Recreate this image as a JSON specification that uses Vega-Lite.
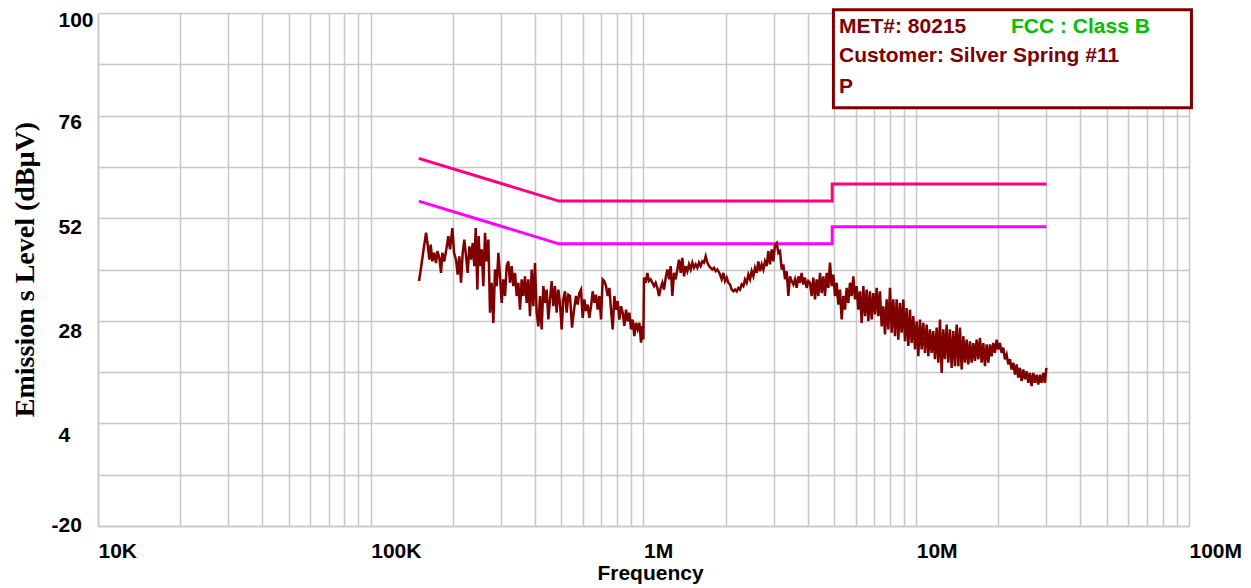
{
  "$schema": "https://vega.github.io/schema/vega-lite/v6.json",
  "width": 1091,
  "height": 513,
  "autosize": "none",
  "padding": {"left": 98, "top": 13, "right": 62, "bottom": 62},
  "background": "white",
  "config": {"view": {"stroke": null}},
  "resolve": {"scale": {"color": "independent"}},
  "datasets": {
    "trace": [
      {"f":150300,"dB":37.3},{"f":152900,"dB":40.4},{"f":155900,"dB":44.3},{"f":159500,"dB":48.6},{"f":161700,"dB":45.8},
      {"f":164000,"dB":42.3},{"f":165900,"dB":45.8},{"f":168200,"dB":41.9},{"f":170600,"dB":43.9},{"f":173500,"dB":41.5},
      {"f":175500,"dB":44.3},{"f":178500,"dB":42.7},{"f":181000,"dB":39.2},{"f":183000,"dB":43.9},{"f":186100,"dB":41.9},
      {"f":188800,"dB":44.3},{"f":192500,"dB":47.8},{"f":195300,"dB":44.7},{"f":199200,"dB":49.7},{"f":202000,"dB":43.9},
      {"f":205400,"dB":42.3},{"f":208300,"dB":38.8},{"f":211300,"dB":43.1},{"f":214300,"dB":36.9},{"f":217300,"dB":43.9},
      {"f":220400,"dB":47.0},{"f":223500,"dB":43.1},{"f":226700,"dB":39.2},{"f":229900,"dB":45.4},{"f":233200,"dB":42.3},
      {"f":236500,"dB":46.2},{"f":239800,"dB":40.8},{"f":242500,"dB":49.7},{"f":246000,"dB":35.3},{"f":248700,"dB":47.8},
      {"f":251600,"dB":40.8},{"f":255100,"dB":44.7},{"f":258700,"dB":36.1},{"f":262400,"dB":48.6},{"f":266100,"dB":41.9},
      {"f":269900,"dB":47.0},{"f":273700,"dB":29.9},{"f":277600,"dB":36.9},{"f":281500,"dB":27.5},{"f":285500,"dB":40.0},
      {"f":289600,"dB":36.1},{"f":293700,"dB":43.9},{"f":297800,"dB":38.4},{"f":302000,"dB":32.2},{"f":306300,"dB":37.7},
      {"f":310700,"dB":33.8},{"f":315100,"dB":40.8},{"f":319500,"dB":41.9},{"f":324000,"dB":36.9},{"f":328600,"dB":40.8},
      {"f":333300,"dB":36.1},{"f":338000,"dB":39.2},{"f":342800,"dB":33.8},{"f":347600,"dB":36.9},{"f":352600,"dB":30.6},
      {"f":357600,"dB":37.7},{"f":362600,"dB":33.8},{"f":367800,"dB":38.4},{"f":373000,"dB":32.2},{"f":378300,"dB":37.7},
      {"f":383600,"dB":29.1},{"f":389000,"dB":40.0},{"f":394600,"dB":31.4},{"f":400100,"dB":41.5},{"f":405800,"dB":29.9},
      {"f":411600,"dB":26.7},{"f":417400,"dB":33.8},{"f":423300,"dB":26.0},{"f":429300,"dB":36.1},{"f":435400,"dB":32.2},
      {"f":441500,"dB":35.3},{"f":447800,"dB":28.3},{"f":454100,"dB":33.0},{"f":460600,"dB":37.3},{"f":467100,"dB":31.4},
      {"f":473700,"dB":36.1},{"f":480400,"dB":29.9},{"f":487200,"dB":35.3},{"f":494100,"dB":32.2},{"f":501100,"dB":26.0},
      {"f":508200,"dB":33.0},{"f":515400,"dB":34.9},{"f":522700,"dB":29.9},{"f":530100,"dB":34.1},
      {"f":537800,"dB":33.8},{"f":546900,"dB":26.4},{"f":556200,"dB":30.6},{"f":565700,"dB":33.8},{"f":573700,"dB":31.8},
      {"f":581900,"dB":34.5},{"f":590100,"dB":35.3},{"f":598500,"dB":28.7},{"f":607000,"dB":33.0},{"f":615600,"dB":30.3},
      {"f":624300,"dB":31.8},{"f":633100,"dB":28.7},{"f":642100,"dB":31.4},{"f":651200,"dB":34.9},{"f":660400,"dB":32.2},
      {"f":669700,"dB":34.1},{"f":679300,"dB":30.6},{"f":688900,"dB":33.8},{"f":698700,"dB":28.3},{"f":708500,"dB":37.7},
      {"f":718600,"dB":37.3},{"f":728800,"dB":36.1},{"f":739100,"dB":33.8},{"f":749600,"dB":35.7},{"f":760200,"dB":30.6},
      {"f":771000,"dB":26.0},{"f":781900,"dB":33.8},{"f":793000,"dB":30.6},{"f":804300,"dB":32.6},{"f":815600,"dB":28.3},
      {"f":827200,"dB":31.4},{"f":838900,"dB":29.9},{"f":850800,"dB":26.8},{"f":862900,"dB":30.6},{"f":875100,"dB":27.9},
      {"f":887500,"dB":29.9},{"f":900100,"dB":26.0},{"f":912800,"dB":28.3},{"f":925800,"dB":24.4},{"f":938900,"dB":27.5},
      {"f":952200,"dB":26.0},{"f":965700,"dB":27.5},{"f":979400,"dB":22.9},{"f":990300,"dB":26.8},{"f":998800,"dB":23.6},
      {"f":1004400,"dB":38.1},{"f":1018600,"dB":36.9},{"f":1033100,"dB":39.2},{"f":1047700,"dB":37.3},{"f":1062500,"dB":37.7},
      {"f":1077600,"dB":36.9},{"f":1092900,"dB":36.1},{"f":1108300,"dB":36.9},{"f":1124100,"dB":35.7},{"f":1140000,"dB":33.8},
      {"f":1156100,"dB":35.7},{"f":1172500,"dB":36.9},{"f":1189100,"dB":35.3},{"f":1206000,"dB":38.1},{"f":1223000,"dB":40.0},
      {"f":1240400,"dB":37.7},{"f":1257900,"dB":40.8},{"f":1275800,"dB":33.8},{"f":1293900,"dB":39.2},{"f":1312200,"dB":37.7},
      {"f":1330800,"dB":40.0},{"f":1349600,"dB":42.3},{"f":1368700,"dB":39.2},{"f":1388200,"dB":42.7},{"f":1407800,"dB":38.4},
      {"f":1427700,"dB":40.8},{"f":1448000,"dB":39.6},{"f":1468500,"dB":41.2},{"f":1489300,"dB":40.0},{"f":1510400,"dB":41.6},
      {"f":1531800,"dB":40.4},{"f":1553500,"dB":41.2},{"f":1575500,"dB":40.4},{"f":1597800,"dB":41.6},{"f":1620500,"dB":40.8},
      {"f":1643500,"dB":41.9},{"f":1666700,"dB":41.6},{"f":1690400,"dB":43.1},{"f":1714300,"dB":41.6},{"f":1738600,"dB":40.8},
      {"f":1763200,"dB":40.4},{"f":1788200,"dB":40.0},{"f":1813500,"dB":40.4},{"f":1839200,"dB":39.6},{"f":1865300,"dB":40.0},
      {"f":1897200,"dB":39.2},
      {"f":1907700,"dB":38.8},{"f":1934700,"dB":37.7},{"f":1962100,"dB":39.2},{"f":1990000,"dB":37.3},{"f":2018200,"dB":38.1},
      {"f":2046700,"dB":36.9},{"f":2075700,"dB":36.5},{"f":2105200,"dB":35.3},{"f":2135000,"dB":34.9},{"f":2165100,"dB":35.3},
      {"f":2195900,"dB":34.9},{"f":2227000,"dB":35.7},{"f":2258600,"dB":35.3},{"f":2290700,"dB":36.5},{"f":2323000,"dB":36.1},
      {"f":2355900,"dB":37.7},{"f":2389300,"dB":36.9},{"f":2423300,"dB":38.8},{"f":2457600,"dB":37.7},{"f":2492400,"dB":39.6},
      {"f":2527700,"dB":38.4},{"f":2563400,"dB":40.4},{"f":2599800,"dB":39.2},{"f":2636600,"dB":41.9},{"f":2674000,"dB":39.6},
      {"f":2711800,"dB":41.2},{"f":2750300,"dB":40.0},{"f":2789300,"dB":41.9},{"f":2828800,"dB":40.8},{"f":2868900,"dB":44.3},
      {"f":2909700,"dB":41.2},{"f":2950900,"dB":44.7},{"f":2992600,"dB":41.9},{"f":3035000,"dB":45.8},{"f":3078000,"dB":46.2},
      {"f":3121700,"dB":43.9},{"f":3165900,"dB":44.3},{"f":3210800,"dB":40.0},{"f":3256200,"dB":41.2},{"f":3302300,"dB":37.7},
      {"f":3349000,"dB":39.6},{"f":3396600,"dB":33.8},{"f":3444600,"dB":38.4},{"f":3493400,"dB":37.3},{"f":3542900,"dB":36.5},
      {"f":3593100,"dB":37.7},{"f":3644100,"dB":35.7},{"f":3695600,"dB":38.4},{"f":3748000,"dB":36.9},{"f":3801000,"dB":39.2},
      {"f":3854800,"dB":36.5},{"f":3909400,"dB":38.1},{"f":3964800,"dB":35.7},{"f":4021100,"dB":37.3},{"f":4077900,"dB":36.9},
      {"f":4135800,"dB":33.8},{"f":4194300,"dB":38.1},{"f":4253700,"dB":33.0},{"f":4314000,"dB":37.7},{"f":4375100,"dB":33.8},
      {"f":4437100,"dB":39.2},{"f":4500000,"dB":34.5},{"f":4563600,"dB":38.4},{"f":4628200,"dB":33.8},{"f":4693800,"dB":39.2},
      {"f":4760300,"dB":35.7},{"f":4827600,"dB":41.6},{"f":4896100,"dB":36.1},{"f":4965400,"dB":38.8},{"f":5035800,"dB":33.8},
      {"f":5107000,"dB":36.9},{"f":5179400,"dB":31.8},{"f":5252700,"dB":35.3},{"f":5327100,"dB":28.3},{"f":5402500,"dB":33.8},
      {"f":5479000,"dB":30.6},{"f":5556700,"dB":35.7},{"f":5635300,"dB":32.2},{"f":5715100,"dB":36.9},{"f":5796100,"dB":33.8},
      {"f":5878100,"dB":38.4},{"f":5961400,"dB":33.0},{"f":6045900,"dB":36.1},{"f":6131400,"dB":30.6},{"f":6218300,"dB":34.9},
      {"f":6307500,"dB":27.5},{"f":6396700,"dB":36.1},{"f":6487600,"dB":29.1},{"f":6579500,"dB":35.3},{"f":6672500,"dB":27.9},
      {"f":6767100,"dB":34.9},{"f":6863200,"dB":28.3},{"f":6960400,"dB":34.5},{"f":7058600,"dB":29.5},{"f":7158900,"dB":35.7},
      {"f":7260300,"dB":29.1},{"f":7363200,"dB":34.9},{"f":7467800,"dB":26.7},{"f":7573300,"dB":31.4},{"f":7680500,"dB":24.8},
      {"f":7789200,"dB":33.0},{"f":7900100,"dB":26.0},{"f":8011900,"dB":35.7},{"f":8125400,"dB":25.2},{"f":8240400,"dB":33.0},
      {"f":8357000,"dB":24.4},{"f":8475800,"dB":33.0},{"f":8595500,"dB":23.6},{"f":8717400,"dB":32.2},{"f":8840800,"dB":25.2},
      {"f":8966400,"dB":33.0},{"f":9093500,"dB":23.2},{"f":9222200,"dB":31.0},{"f":9353000,"dB":22.1},{"f":9485800,"dB":30.6},
      {"f":9620300,"dB":22.8},{"f":9756400,"dB":29.1},{"f":9894600,"dB":21.3},{"f":10035000,"dB":27.9},{"f":10177000,"dB":19.7},
      {"f":10321000,"dB":28.3},{"f":10468000,"dB":21.3},{"f":10616000,"dB":27.5},{"f":10766000,"dB":20.5},{"f":10918000,"dB":27.1},
      {"f":11073000,"dB":19.7},{"f":11230000,"dB":26.0},{"f":11389000,"dB":20.5},{"f":11550000,"dB":25.6},{"f":11714000,"dB":19.0},
      {"f":11880000,"dB":26.4},{"f":12048000,"dB":18.2},{"f":12219000,"dB":28.3},{"f":12392000,"dB":15.8},{"f":12567000,"dB":26.0},
      {"f":12745000,"dB":19.0},{"f":12926000,"dB":27.1},{"f":13109000,"dB":18.2},{"f":13295000,"dB":26.0},{"f":13483000,"dB":17.0},
      {"f":13674000,"dB":25.6},{"f":13868000,"dB":17.4},{"f":14064000,"dB":27.1},{"f":14263000,"dB":17.4},{"f":14465000,"dB":26.4},
      {"f":14670000,"dB":16.6},{"f":14878000,"dB":24.4},{"f":15088000,"dB":18.2},{"f":15302000,"dB":23.6},{"f":15519000,"dB":17.8},
      {"f":15739000,"dB":23.2},{"f":15962000,"dB":18.2},{"f":16188000,"dB":22.8},{"f":16417000,"dB":18.6},{"f":16650000,"dB":23.6},
      {"f":16885000,"dB":19.0},{"f":17124000,"dB":24.0},{"f":17367000,"dB":18.2},{"f":17613000,"dB":22.8},{"f":17862000,"dB":17.4},
      {"f":18116000,"dB":22.5},{"f":18372000,"dB":18.2},{"f":18632000,"dB":22.5},{"f":18896000,"dB":19.7},{"f":19164000,"dB":22.8},
      {"f":19435000,"dB":20.5},{"f":19710000,"dB":23.6},{"f":19989000,"dB":21.3},{"f":20272000,"dB":22.8},{"f":20559000,"dB":20.5},
      {"f":20850000,"dB":21.7},{"f":21146000,"dB":19.0},{"f":21445000,"dB":20.1},{"f":21749000,"dB":17.8},{"f":22057000,"dB":19.0},
      {"f":22369000,"dB":16.6},{"f":22686000,"dB":18.2},{"f":23007000,"dB":15.4},{"f":23333000,"dB":17.8},{"f":23664000,"dB":14.7},
      {"f":23999000,"dB":17.0},{"f":24339000,"dB":13.9},{"f":24684000,"dB":16.6},{"f":25033000,"dB":14.3},{"f":25388000,"dB":16.2},
      {"f":25748000,"dB":13.5},{"f":26112000,"dB":15.8},{"f":26482000,"dB":12.7},{"f":26857000,"dB":15.8},{"f":27237000,"dB":13.5},
      {"f":27623000,"dB":15.4},{"f":28015000,"dB":13.1},{"f":28411000,"dB":15.4},{"f":28814000,"dB":13.5},{"f":29222000,"dB":15.8},
      {"f":29636000,"dB":13.5},{"f":30000000,"dB":17.0}
    ],
    "limits": [
      {"lim":"QP","i":0,"f":150000,"dB":66},{"lim":"QP","i":1,"f":490000,"dB":56},{"lim":"QP","i":2,"f":4920000,"dB":56},
      {"lim":"QP","i":3,"f":4920000,"dB":60},{"lim":"QP","i":4,"f":30000000,"dB":60},
      {"lim":"AV","i":0,"f":150000,"dB":56},{"lim":"AV","i":1,"f":490000,"dB":46},{"lim":"AV","i":2,"f":4920000,"dB":46},
      {"lim":"AV","i":3,"f":4920000,"dB":50},{"lim":"AV","i":4,"f":30000000,"dB":50}
    ],
    "box": [{"f":4970000,"f2":102100000,"dB":100.77,"dB2":77.86}],
    "notes": [
      {"f":5210000,"dB":95.4,"t":"MET#: 80215","kind":"id"},
      {"f":22250000,"dB":95.4,"t":"FCC : Class B","kind":"std"},
      {"f":5210000,"dB":88.45,"t":"Customer: Silver Spring #11","kind":"id"},
      {"f":5210000,"dB":81.3,"t":"P","kind":"id"}
    ]
  },
  "encoding": {
    "x": {
      "field": "f", "type": "quantitative",
      "scale": {"type": "log", "domain": [10000, 100000000]},
      "axis": {
        "values": [10000,20000,30000,40000,50000,60000,70000,80000,90000,100000,200000,300000,400000,500000,600000,700000,800000,900000,1000000,2000000,3000000,4000000,5000000,6000000,7000000,8000000,9000000,10000000,20000000,30000000,40000000,50000000,60000000,70000000,80000000,90000000,100000000],
        "labelExpr": "datum.value==1e4?'10K':datum.value==1e5?'100K':datum.value==1e6?'1M':datum.value==1e7?'10M':datum.value==1e8?'100M':''",
        "labelAlign": "left", "labelBaseline": "top", "labelPadding": 14, "ticks": false,
        "labelFont": "Liberation Sans", "labelFontWeight": "bold", "labelFontSize": 21, "labelColor": "black",
        "labelOverlap": false, "labelFlush": false, "labelBound": false,
        "grid": true, "gridColor": "#C8C8C8", "gridWidth": 1.5,
        "domainColor": "#C8C8C8", "domainWidth": 1.5,
        "title": "Frequency", "titleFont": "Liberation Sans", "titleFontSize": 21, "titleFontWeight": "bold", "titleColor": "black",
        "titleX": 552, "titleY": 53, "titleAlign": "center", "titleBaseline": "alphabetic"
      }
    },
    "y": {
      "field": "dB", "type": "quantitative",
      "scale": {"domain": [-20, 100], "nice": false, "zero": false},
      "axis": {
        "values": [-20,-8,4,16,28,40,52,64,76,88,100],
        "labelExpr": "(datum.value+20)%24==0 ? ''+datum.value : ''",
        "labelAlign": "left", "labelBaseline": "middle", "ticks": false,
        "labelPadding": {"condition": {"test": "datum.value==-20", "value": 47}, "value": 40},
        "labelOffset": {"condition": [
          {"test": "datum.value==-20", "value": -1},
          {"test": "datum.value==52", "value": 9},
          {"test": "datum.value==28", "value": 10.5},
          {"test": "datum.value==4", "value": 11.7}
        ], "value": 7},
        "labelFont": "Liberation Sans", "labelFontWeight": "bold", "labelFontSize": 21, "labelColor": "black",
        "labelOverlap": false, "labelFlush": false, "labelBound": false,
        "grid": true, "gridColor": "#C8C8C8", "gridWidth": 1.5,
        "domainColor": "#C8C8C8", "domainWidth": 1.5,
        "title": "Emission s Level (dBµV)", "titleFont": "Liberation Serif", "titleFontSize": 28, "titleFontWeight": "bold", "titleColor": "black",
        "titleX": -65, "titleY": 256, "titleAlign": "center", "titleBaseline": "alphabetic", "titleAngle": 270
      }
    }
  },
  "layer": [
    {
      "data": {"name": "box"},
      "mark": {"type": "rect", "fill": "white", "stroke": "#800000", "strokeWidth": 3},
      "encoding": {"x2": {"field": "f2"}, "y2": {"field": "dB2"}}
    },
    {
      "data": {"name": "limits"},
      "mark": {"type": "line", "strokeWidth": 3},
      "encoding": {
        "color": {"field": "lim", "type": "nominal", "scale": {"domain": ["QP","AV"], "range": ["#FF0080","#FF00FF"]}, "legend": null},
        "order": {"field": "i", "type": "quantitative"}
      }
    },
    {
      "data": {"name": "trace"},
      "mark": {"type": "line", "color": "#800000", "strokeWidth": 2.5},
      "encoding": {}
    },
    {
      "data": {"name": "notes"},
      "mark": {"type": "text", "align": "left", "baseline": "alphabetic", "font": "Liberation Sans", "fontWeight": "bold", "fontSize": 21},
      "encoding": {
        "text": {"field": "t"},
        "color": {"field": "kind", "type": "nominal", "scale": {"domain": ["id","std"], "range": ["#800000","#00C000"]}, "legend": null}
      }
    }
  ]
}
